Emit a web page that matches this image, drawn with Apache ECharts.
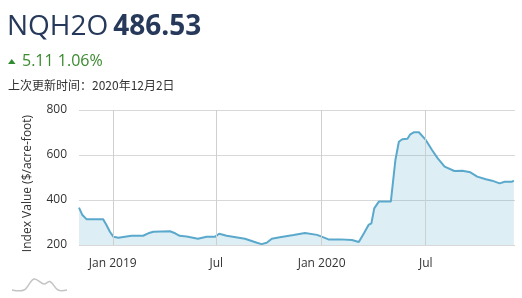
<!DOCTYPE html>
<html><head><meta charset="utf-8">
<script src="https://cdn.jsdelivr.net/npm/echarts@6/dist/echarts.min.js"></script>
<style>html,body{margin:0;padding:0;background:#fff}#c{width:522px;height:298px}</style>
</head><body><div id="c"></div>
<script>
const symbolName = 'NQH2O';
const lastValue = '486.53';
const changeAbs = '5.11';
const changePct = '1.06%';
const updatedText = '上次更新时间：2020年12月2日';
const yAxisName = 'Index Value ($/acre-foot)';
const yTicks = [200, 400, 600, 800];
const xTicks = ['2019-01-01', '2019-07-01', '2020-01-01', '2020-07-01'];

const dates = [
  '2018-11-03','2018-11-09','2018-11-16','2018-12-15','2018-12-21','2018-12-27',
  '2019-01-02','2019-01-11','2019-01-25','2019-02-03','2019-02-23','2019-03-04',
  '2019-03-13','2019-04-11','2019-04-20','2019-04-28','2019-05-10','2019-05-30',
  '2019-06-14','2019-06-29','2019-07-06','2019-07-19','2019-08-20','2019-09-10',
  '2019-09-18','2019-09-27','2019-10-06','2019-10-20','2019-11-13','2019-12-03',
  '2019-12-24','2020-01-01','2020-01-13','2020-02-02','2020-02-23','2020-03-06',
  '2020-03-15','2020-03-23','2020-03-28','2020-04-02','2020-04-10','2020-05-01',
  '2020-05-09','2020-05-15','2020-05-21','2020-05-30','2020-06-04','2020-06-10',
  '2020-06-19','2020-07-01','2020-07-12','2020-07-22','2020-08-03','2020-08-20',
  '2020-09-03','2020-09-17','2020-09-29','2020-10-14','2020-10-25','2020-11-07',
  '2020-11-16','2020-11-28','2020-12-02'
];
const values = [
  366,333,315,315,289,259,
  237,232,238,241,241,252,
  259,261,252,241,238,228,
  237,237,250,241,228,210,
  204,210,228,234,244,253,
  245,237,225,225,222,213,
  252,289,296,363,393,393,
  578,659,670,672,692,701,
  701,667,622,585,548,529,
  530,523,504,492,486,474,
  481,481,486.53
];

const chart = echarts.init(document.getElementById('c'), null, {renderer: 'canvas'});
const DAY = 864e5;
const FONT = '"Open Sans", sans-serif';
chart.setOption({
  animation: false,
  backgroundColor: '#fff',
  title: [
    {
      left: 2, top: 8,
      text: '{a|' + symbolName + '} {b|' + lastValue + '}',
      textStyle: {
        rich: {
          a: {fontFamily: FONT, fontSize: 28, color: '#26395a', fontWeight: 'normal'},
          b: {fontFamily: FONT, fontSize: 28, color: '#26395a', fontWeight: 'bold'}
        }
      }
    },
    {
      left: 17, top: 48,
      text: changeAbs + ' ' + changePct,
      textStyle: {fontFamily: FONT, fontSize: 16, color: '#3a8a2e', fontWeight: 'normal'}
    },
    {
      left: 3, top: 74,
      text: updatedText,
      textStyle: {fontFamily: '"Noto Sans CJK SC", sans-serif', fontSize: 12, color: '#333', fontWeight: 'normal'}
    }
  ],
  graphic: [
    {type: 'polygon', shape: {points: [[8, 64], [15.5, 64], [11.75, 59]]}, style: {fill: '#2e8b2e'}},
    {type: 'polyline', shape: {smooth: 0.35, points: [[12,290],[24,290],[34,279],[44,284],[50,281.5],[58,290],[67,290]]},
     style: {fill: 'none', stroke: '#c4c4c4', lineWidth: 1.5}}
  ],
  grid: {left: 79, right: 7, top: 110, bottom: 53},
  xAxis: {
    type: 'time',
    min: '2018-11-03', max: '2020-12-04',
    minInterval: 180 * DAY, maxInterval: 185 * DAY,
    axisLine: {show: false},
    axisTick: {show: false},
    splitLine: {show: false},
    axisLabel: {
      color: '#333', fontFamily: FONT, fontSize: 12, margin: 13,
      formatter: function (v) {
        const d = new Date(v);
        const m = d.getMonth();
        if (d.getDate() !== 1) return '';
        if (m === 0) return 'Jan ' + d.getFullYear();
        if (m === 6) return 'Jul';
        return '';
      }
    }
  },
  yAxis: {
    type: 'value',
    min: yTicks[0], max: yTicks[yTicks.length - 1], interval: 200,
    name: yAxisName, nameLocation: 'middle', nameGap: 45, nameRotate: 90,
    nameTextStyle: {color: '#333', fontFamily: FONT, fontSize: 12, padding: [0, 12, 0, 0]},
    axisLine: {show: false},
    axisTick: {show: false},
    splitLine: {lineStyle: {color: '#d8d8d8', width: 1}},
    axisLabel: {color: '#333', fontFamily: FONT, fontSize: 12, margin: 12}
  },
  series: [
    {
      type: 'line', z: 1, data: [], silent: true,
      markLine: {
        silent: true, symbol: 'none', animation: false,
        label: {show: false},
        lineStyle: {color: '#cfcfcf', width: 1, type: 'solid'},
        emphasis: {disabled: true},
        data: xTicks.map(t => ({xAxis: t}))
      }
    },
    {
      type: 'line', z: 2,
      data: dates.map((d, i) => [d, values[i]]),
      showSymbol: false,
      lineStyle: {color: '#5aa9cd', width: 2},
      itemStyle: {color: '#5aa9cd'},
      areaStyle: {color: 'rgba(90,169,205,0.2)', opacity: 1}
    }
  ]
});
</script>
</body></html>
